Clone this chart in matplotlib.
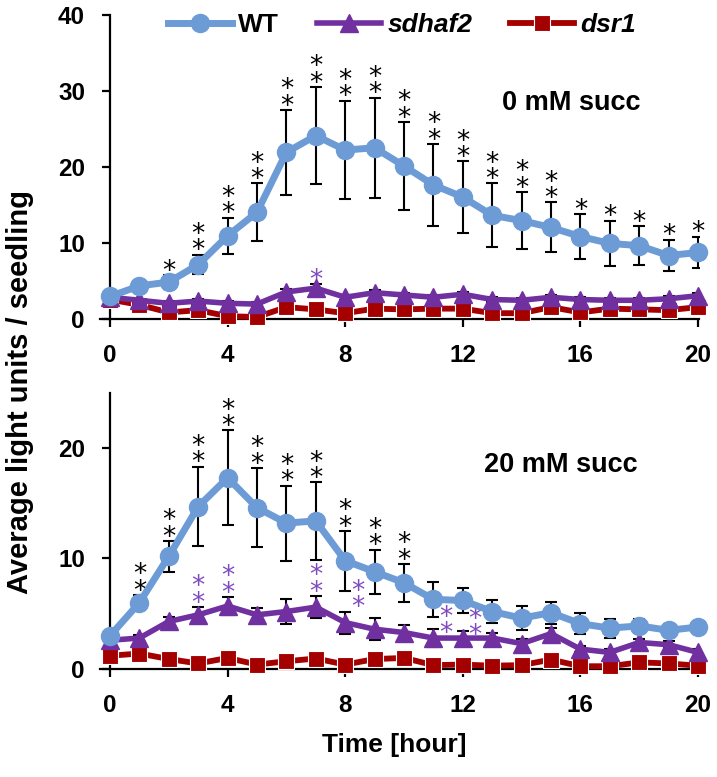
import matplotlib
matplotlib.use("Agg")
import matplotlib.pyplot as plt
import numpy as np

plt.rcParams['font.family'] = ['Liberation Sans', 'DejaVu Sans']
plt.rcParams['font.weight'] = 'bold'

hours = list(range(21))
xticks = [0, 4, 8, 12, 16, 20]

# 0 mM succinate
wt0 = [2.9, 4.3, 4.8, 7.1, 10.9, 14.0, 21.9, 24.1, 22.2, 22.5, 20.1, 17.6, 16.0, 13.6, 12.9, 12.0, 10.8, 9.9, 9.6, 8.3, 8.7]
wt0_err = [0.3, 0.5, 0.9, 1.3, 2.4, 3.8, 5.6, 6.4, 6.5, 6.6, 5.8, 5.4, 4.7, 4.2, 3.8, 3.3, 3.0, 3.0, 2.6, 2.1, 2.1]
sd0 = [2.8, 2.4, 2.0, 2.3, 2.0, 1.9, 3.5, 4.0, 2.8, 3.4, 3.1, 2.8, 3.2, 2.5, 2.4, 2.8, 2.5, 2.4, 2.4, 2.6, 3.0]
sd0_err = [0.3, 0.3, 0.3, 0.3, 0.3, 0.3, 0.4, 0.5, 0.3, 0.4, 0.3, 0.3, 0.3, 0.3, 0.3, 0.3, 0.3, 0.3, 0.3, 0.3, 0.3]
dsr0 = [2.5, 1.8, 0.8, 1.1, 0.3, 0.2, 1.5, 1.2, 0.7, 1.3, 1.2, 1.3, 1.3, 0.7, 0.7, 1.5, 0.8, 1.3, 1.2, 1.1, 1.5]
dsr0_err = [0.2] * 21
wt0_stars = [0, 0, 1, 2, 2, 2, 2, 2, 2, 2, 2, 2, 2, 2, 2, 2, 1, 1, 1, 1, 1]
sd0_stars = [0, 0, 0, 0, 0, 0, 0, 1, 0, 0, 0, 0, 0, 0, 0, 0, 0, 0, 0, 0, 0]

# 20 mM succinate
wt20 = [3.0, 6.0, 10.2, 14.7, 17.3, 14.6, 13.2, 13.4, 9.8, 8.8, 7.8, 6.3, 6.2, 5.2, 4.6, 5.1, 4.1, 3.7, 3.9, 3.5, 3.8]
wt20_err = [0.2, 0.7, 1.4, 3.6, 4.3, 3.6, 3.4, 3.5, 2.7, 2.0, 1.7, 1.6, 1.1, 1.0, 1.1, 1.0, 0.95, 0.85, 0.65, 0.6, 0.4]
sd20 = [2.6, 2.8, 4.3, 4.9, 5.7, 4.9, 5.2, 5.6, 4.2, 3.6, 3.3, 2.8, 2.8, 2.8, 2.3, 3.2, 1.8, 1.5, 2.4, 2.2, 1.5]
sd20_err = [0.2, 0.3, 0.4, 0.7, 0.8, 0.6, 1.1, 1.0, 1.0, 1.0, 0.7, 0.8, 0.6, 0.5, 0.4, 0.5, 0.3, 0.3, 0.3, 0.3, 0.3]
dsr20 = [1.2, 1.4, 0.9, 0.5, 1.0, 0.4, 0.7, 0.95, 0.4, 0.9, 1.0, 0.35, 0.4, 0.3, 0.35, 0.85, 0.25, 0.25, 0.6, 0.5, 0.3]
dsr20_err = [0.2] * 21
wt20_stars = [0, 2, 2, 2, 2, 2, 2, 2, 2, 2, 2, 0, 0, 0, 0, 0, 0, 0, 0, 0, 0]
sd20_stars = [0, 0, 0, 2, 2, 0, 0, 2, 2, 0, 0, 2, 2, 0, 0, 0, 0, 0, 0, 0, 0]
# 1 = stars beside the bar (right), 2 = beside and lower
sd20_shift = [0, 0, 0, 0, 0, 0, 0, 0, 1, 0, 0, 2, 2, 0, 0, 0, 0, 0, 0, 0, 0]

labels = ['WT', 'sdhaf2', 'dsr1']
c_wt = '#6C9BD6'
c_sd = '#7030A0'
c_dsr = '#A50000'
c_sd_star = '#7F4CC0'

W, H = 717, 777
fig = plt.figure(figsize=(W / 100, H / 100), dpi=100)

xmin, xmax = -0.35, 20.02
def px_axes(bottom_px, top_px):
    left = 99.7 / W
    width = (698.6 - 99.7) / W
    return [left, 1 - bottom_px / H, width, (bottom_px - top_px) / H]

ax1 = fig.add_axes(px_axes(318.5, 15))
ax2 = fig.add_axes(px_axes(669, 392.7))


def draw_stars(ax, x, ytop, stars, color, shifts=None):
    for i in range(len(x)):
        n = stars[i]
        if n == 0:
            continue
        dx, dy = 0, -7
        if shifts is not None and shifts[i]:
            dx = 9
            if shifts[i] == 2:
                dy = -13
        ax.annotate('\n'.join(['*'] * n), xy=(x[i], ytop[i]), xytext=(dx, dy),
                    textcoords='offset points', ha='center', va='bottom',
                    fontsize=19, fontweight='normal', color=color, linespacing=0.52,
                    family='DejaVu Sans', annotation_clip=False)


def panel(ax, wt, wte, sd, sde, dsr, dsre, ymax, yticks, label):
    ekw = dict(fmt='none', ecolor='black', elinewidth=1.5, capsize=4, capthick=1.5, zorder=2)
    ax.errorbar(hours, dsr, yerr=dsre, **ekw)
    ax.errorbar(hours, sd, yerr=sde, **ekw)
    ax.errorbar(hours, wt, yerr=wte, **ekw)
    l3, = ax.plot(hours, dsr, color=c_dsr, lw=4.2, marker='s', ms=11, mec='white', mew=0.8,
                  zorder=3, clip_on=False, label=labels[2])
    l2, = ax.plot(hours, sd, color=c_sd, lw=4.0, marker='^', ms=12.5, zorder=4, clip_on=False, label=labels[1])
    l1, = ax.plot(hours, wt, color=c_wt, lw=5.0, marker='o', ms=13, zorder=5, clip_on=False, label=labels[0])
    ax.set_xlim(xmin, xmax)
    ax.set_ylim(0, ymax)
    ax.set_xticks(xticks)
    ax.set_yticks(yticks)
    ax.spines['top'].set_visible(False)
    ax.spines['right'].set_visible(False)
    ax.spines['left'].set_position(('data', 0))
    for s in ('left', 'bottom'):
        ax.spines[s].set_linewidth(1.6)
    ax.tick_params(axis='both', direction='out', length=6, width=1.6, labelsize=17.5)
    ax.tick_params(axis='y', pad=12)
    ax.tick_params(axis='x', pad=12)
    for t in ax.get_xticklabels() + ax.get_yticklabels():
        t.set_fontweight('bold')
    ax.text(label[1], label[2], label[0], transform=ax.transAxes, ha='center', va='center',
            fontsize=19.5, fontweight='bold')
    return l1, l2, l3


h1 = panel(ax1, wt0, wt0_err, sd0, sd0_err, dsr0, dsr0_err, 40, [0, 10, 20, 30, 40], ('0 mM succ', 0.788, 0.71))
h2 = panel(ax2, wt20, wt20_err, sd20, sd20_err, dsr20, dsr20_err, 25, [0, 10, 20], ('20 mM succ', 0.770, 0.74))

draw_stars(ax1, hours, [a + b for a, b in zip(wt0, wt0_err)], wt0_stars, 'black')
draw_stars(ax1, hours, [a + b for a, b in zip(sd0, sd0_err)], sd0_stars, c_sd_star)
draw_stars(ax2, hours, [a + b for a, b in zip(wt20, wt20_err)], wt20_stars, 'black')
draw_stars(ax2, hours, [a + b for a, b in zip(sd20, sd20_err)], sd20_stars, c_sd_star, sd20_shift)

leg = ax1.legend(handles=list(h1), loc='center', bbox_to_anchor=(0.505, 0.966), ncol=3,
                 frameon=False, fontsize=19, handlelength=2.4, columnspacing=1.45, handletextpad=0.25,
                 borderaxespad=0)
for t, style in zip(leg.get_texts(), ['normal', 'italic', 'italic']):
    t.set_fontweight('bold')
    t.set_fontstyle(style)

fig.text(394 / W, 1 - 745 / H, 'Time [hour]', ha='center', va='center', fontsize=19, fontweight='bold')
fig.text(20 / W, 1 - 392 / H, 'Average light units / seedling', ha='center', va='center',
         rotation=90, fontsize=21, fontweight='bold')

fig.savefig('out.png', dpi=100)
